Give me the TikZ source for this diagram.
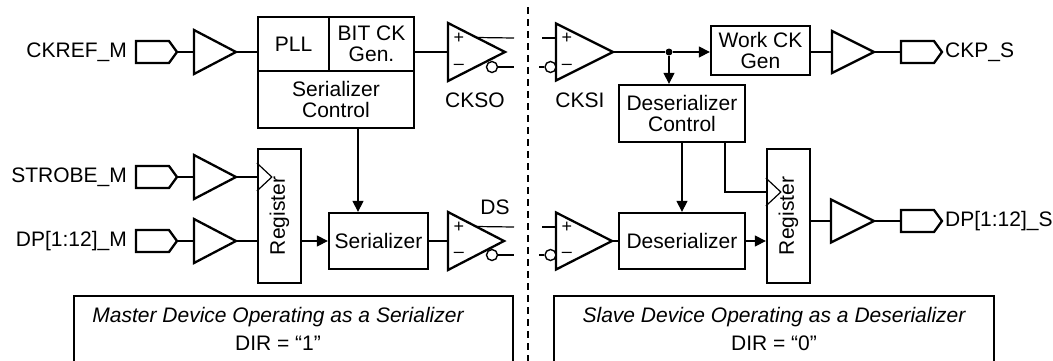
\documentclass[tikz,border=0pt]{standalone}
\usepackage{fontspec}
\setmainfont{Liberation Sans}
\usetikzlibrary{arrows.meta, shapes.geometric, shapes.symbols, positioning}

\begin{document}
\begin{tikzpicture}[x=1pt, y=-1pt,
    font=\fontsize{21}{21.5}\selectfont,
    box/.style={draw, line width=2.3pt, inner sep=0pt, align=center},
    buf/.style={draw, line width=2.3pt, isosceles triangle, isosceles triangle stretches, inner sep=0pt, outer sep=0pt, anchor=west},
    pad/.style={draw, line width=2.3pt, signal, signal to=east, signal pointer angle=108, minimum width=41pt, minimum height=22pt, inner sep=0pt, outer sep=0pt},
    bub/.style={draw, line width=1.4pt, circle, fill=white, inner sep=0pt, minimum size=11pt},
    sgn/.style={font=\fontsize{18}{18}\selectfont, inner sep=0pt},
    lbl/.style={inner sep=2pt},
    wire/.style={line width=1.2pt},
    arr/.style={line width=1.2pt, -{Triangle[length=11pt, width=11pt]}}]

      \useasboundingbox (0,0) rectangle (1053,360);

      \draw[line width=2.3pt, dash pattern=on 7pt off 5pt] (528,7) -- (528,365);

      % clock path, master
      \node[pad] (padCk) at (152.5,52) {};
      \node[lbl, left=7pt of padCk] (lCk) {CKREF\_M};
      \node[buf, minimum width=44pt, minimum height=42pt] (bufCk) at (194,52) {};
      \node[box, minimum width=71pt, minimum height=54pt] (pll) at (293.5,44) {PLL};
      \node[box, minimum width=85pt, minimum height=54pt] (bitck) at (371.5,44) {BIT CK\\Gen.};
      \node[box, minimum width=156pt, minimum height=57pt] (serctl) at (336,99.5) {Serializer\\Control};
      \draw[wire] (padCk.east) -- (bufCk.west);
      \draw[wire] (bufCk.east) -- (bufCk.east -| pll.west);

      \node[buf, minimum width=58pt, minimum height=57pt] (ckso) at (448,52) {};
      \draw[wire] (bitck.east |- ckso.west) -- (ckso.west);
      \node[sgn] (pCkso) at (459,38) {+};
      \node[sgn] (mCkso) at (459,67) {–};
      \coordinate (cksoP) at (514,38);
      \coordinate (cksoN) at (514,67);
      \draw[wire] (ckso.left side) -- (cksoP);
      \node[bub] (bCkso) at (492,67) {};
      \draw[wire] (bCkso.east) -- (cksoN);
      \node (lCkso) at (475,100) {CKSO};

      % clock path, slave
      \node[buf, minimum width=57pt, minimum height=57pt] (cksi) at (556,52) {};
      \coordinate (cksiP) at (542,38);
      \coordinate (cksiN) at (539,67);
      \draw[wire] (cksiP) -- (cksiP -| cksi.west);
      \node[bub] (bCksi) at (550.5,67) {};
      \draw[wire] (cksiN) -- (bCksi.west);
      \node[sgn] (pCksi) at (567,38) {+};
      \node[sgn] (mCksi) at (567,67) {–};
      \node (lCksi) at (580,100) {CKSI};

      \node[circle, fill, inner sep=0pt, minimum size=7pt] (dot) at (669,52) {};
      \draw[wire] (cksi.east) -- (dot);
      \node[box, minimum width=99pt, minimum height=49pt] (work) at (760.5,50.5) {Work CK\\Gen};
      \draw[arr] (dot) -- (dot -| work.west);
      \node[box, minimum width=126pt, minimum height=57pt] (desctl) at (682,113.5) {Deserializer\\Control};
      \draw[arr] (dot) -- (dot |- desctl.north);
      \node[buf, minimum width=42pt, minimum height=42pt] (bufCkp) at (832,52) {};
      \draw[wire] (work.east |- bufCkp.west) -- (bufCkp.west);
      \node[pad] (padCkp) at (917.5,52) {};
      \draw[wire] (bufCkp.east) -- (padCkp.west);
      \node[lbl, right=1pt of padCkp] (lCkp) {CKP\_S};

      % data path, master
      \node[pad] (padSt) at (152.5,177) {};
      \node[lbl, left=7pt of padSt] (lSt) {STROBE\_M};
      \node[buf, minimum width=44pt, minimum height=42pt] (bufSt) at (194,177) {};
      \node[pad] (padDp) at (152.5,241) {};
      \node[lbl, left=7pt of padDp] (lDp) {DP[1:12]\_M};
      \node[buf, minimum width=44pt, minimum height=42pt] (bufDp) at (194,241) {};
      \node[box, minimum width=43pt, minimum height=134pt] (regM) at (279.5,216) {};
      \node[rotate=90] (tRegM) at (regM) {Register};
      \draw[wire] (padSt.east) -- (bufSt.west);
      \draw[wire] (bufSt.east) -- (bufSt.east -| regM.west);
      \coordinate (ckM) at (bufSt.east -| regM.west);
      \draw[wire] ([yshift=14pt]ckM) -- ++(15,14) -- ++(-15,14);
      \draw[wire] (padDp.east) -- (bufDp.west);
      \draw[wire] (bufDp.east) -- (bufDp.east -| regM.west);

      \node[box, minimum width=99pt, minimum height=56pt] (ser) at (378.5,241) {Serializer};
      \draw[arr] (regM.east |- ser.west) -- (ser.west);
      \draw[arr] ([xshift=22pt]serctl.south) -- ([xshift=22pt]serctl.south |- ser.north);

      \node[buf, minimum width=58pt, minimum height=56pt] (dso) at (448,241) {};
      \draw[wire] (ser.east) -- (dso.west);
      \node[sgn] (pDso) at (459,227) {+};
      \node[sgn] (mDso) at (459,255) {–};
      \coordinate (dsoP) at (514,227);
      \coordinate (dsoN) at (514,255);
      \draw[wire] (dso.left side) -- (dsoP);
      \node[bub] (bDso) at (492,255) {};
      \draw[wire] (bDso.east) -- (dsoN);
      \node (lDs) at (495,207) {DS};

      % data path, slave
      \node[buf, minimum width=57pt, minimum height=56pt] (dsi) at (556,241) {};
      \coordinate (dsiP) at (542,227);
      \coordinate (dsiN) at (539,255);
      \draw[wire] (dsiP) -- (dsiP -| dsi.west);
      \node[bub] (bDsi) at (550.5,255) {};
      \draw[wire] (dsiN) -- (bDsi.west);
      \node[sgn] (pDsi) at (567,227) {+};
      \node[sgn] (mDsi) at (567,255) {–};

      \node[box, minimum width=126pt, minimum height=56pt] (deser) at (682,241) {Deserializer};
      \draw[wire] (dsi.east) -- (deser.west);
      \draw[arr] (desctl.south) -- (deser.north);
      \node[box, minimum width=43pt, minimum height=134pt] (regS) at (788.5,216) {};
      \node[rotate=90] (tRegS) at (regS) {Register};
      \draw[arr] (deser.east) -- (deser.east -| regS.west);
      \coordinate (ckS) at ([yshift=24pt]regS.west);
      \draw[wire] ([xshift=43pt]desctl.south) |- (ckS);
      \draw[wire] ([yshift=14pt]ckS) -- ++(15,14) -- ++(-15,14);

      \node[buf, minimum width=43pt, minimum height=43pt] (bufO) at (831,221) {};
      \draw[wire] (bufO.west -| regS.east) -- (bufO.west);
      \node[pad] (padO) at (917.5,221) {};
      \draw[wire] (bufO.east) -- (padO.west);
      \node[lbl, right=1pt of padO] (lO) {DP[1:12]\_S};

      % mode boxes
      \draw[line width=2.3pt] (74,365) -- (74,296) -- (513,296) -- (513,365);
      \node (mTitle) at (278,317) {\itshape Master Device Operating as a Serializer};
      \node (mDir) at (278,343) {DIR = “1”};
      \draw[line width=2.3pt] (554,365) -- (554,296) -- (994,296) -- (994,365);
      \node (sTitle) at (774,317) {\itshape Slave Device Operating as a Deserializer};
      \node (sDir) at (774,343) {DIR = “0”};

    \end{tikzpicture}
\end{document}
